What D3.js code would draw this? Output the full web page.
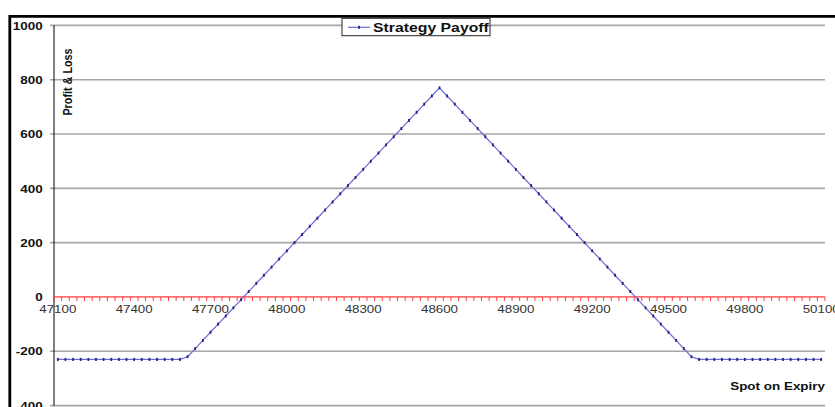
<!DOCTYPE html>
<html>
<head>
<meta charset="utf-8">
<script src="https://cdn.jsdelivr.net/npm/d3@7"></script>
<style>
  body { margin: 0; background: #fff; }
  text { font-family: "Liberation Sans", Arial, sans-serif; }
</style>
</head>
<body>
<div class="chart"></div>
<script>
// Butterfly payoff chart, spot on expiry vs profit & loss

// Spot prices on expiry (category axis)
var categories = [
  47100,47130,47160,47190,47220,47250,47280,47310,47340,47370,
  47400,47430,47460,47490,47520,47550,47580,47610,47640,47670,
  47700,47730,47760,47790,47820,47850,47880,47910,47940,47970,
  48000,48030,48060,48090,48120,48150,48180,48210,48240,48270,
  48300,48330,48360,48390,48420,48450,48480,48510,48540,48570,
  48600,48630,48660,48690,48720,48750,48780,48810,48840,48870,
  48900,48930,48960,48990,49020,49050,49080,49110,49140,49170,
  49200,49230,49260,49290,49320,49350,49380,49410,49440,49470,
  49500,49530,49560,49590,49620,49650,49680,49710,49740,49770,
  49800,49830,49860,49890,49920,49950,49980,50010,50040,50070,
  50100];

// Strategy payoff
var payoff = [
  -230,-230,-230,-230,-230,-230,-230,-230,-230,-230,
  -230,-230,-230,-230,-230,-230,-230,-220,-190,-160,
  -130,-100,-70,-40,-10,20,50,80,110,140,
  170,200,230,260,290,320,350,380,410,440,
  470,500,530,560,590,620,650,680,710,740,
  770,740,710,680,650,620,590,560,530,500,
  470,440,410,380,350,320,290,260,230,200,
  170,140,110,80,50,20,-10,-40,-70,-100,
  -130,-160,-190,-220,-230,-230,-230,-230,-230,-230,
  -230,-230,-230,-230,-230,-230,-230,-230,-230,-230,
  -230];

var xTickLabels = ["47100","47400","47700","48000","48300","48600","48900","49200","49500","49800","50100"];
var yTicks = [1000, 800, 600, 400, 200, 0, -200, -400];

var stretch = 1.17; // text in the picture is a bit wide

var svg = d3.select(".chart").append("svg")
    .attr("width", 835)
    .attr("height", 407);

svg.append("rect").attr("width", 835).attr("height", 407).attr("fill", "#fff");

var left = 54, right = 825;

var x = d3.scalePoint().domain(categories).range([left, right]).padding(0.5);
var band = d3.scaleBand().domain(categories).range([left, right]);
var y = d3.scaleLinear().domain([-400, 1000]).range([405.6, 25.4]);

// gridlines (they run 4px past the axis as tick marks)
svg.selectAll(".grid")
    .data(yTicks.filter(function(d) { return d !== 0; }))
    .enter().append("line")
    .attr("x1", left - 4).attr("x2", right)
    .attr("y1", function(d) { return y(d); })
    .attr("y2", function(d) { return y(d); })
    .attr("stroke", "#a6a6a6")
    .attr("stroke-width", 1.6);

// y axis line
svg.append("line")
    .attr("x1", left).attr("x2", left)
    .attr("y1", y(1000)).attr("y2", y(-400))
    .attr("stroke", "#000").attr("stroke-width", 1);

// y labels
svg.selectAll(".ylab")
    .data(yTicks)
    .enter().append("text")
    .text(function(d) { return d; })
    .attr("transform", function(d) { return "translate(42.7," + (y(d) + 4.2) + ") scale(" + stretch + ",1)"; })
    .attr("text-anchor", "end")
    .style("font-size", "11.5px")
    .style("font-weight", "bold")
    .style("fill", "#111");

// red zero axis with ticks between categories
svg.append("line")
    .attr("x1", left).attr("x2", right)
    .attr("y1", y(0)).attr("y2", y(0))
    .attr("stroke", "#ff3b3b").attr("stroke-width", 1.2);

svg.selectAll(".xtick")
    .data(categories.map(function(c) { return band(c); }).concat([right]))
    .enter().append("line")
    .attr("x1", function(d) { return d; })
    .attr("x2", function(d) { return d; })
    .attr("y1", y(0)).attr("y2", y(0) + 4)
    .attr("stroke", "#ff3b3b").attr("stroke-width", 1);

// x labels
svg.selectAll(".xlab")
    .data(xTickLabels)
    .enter().append("text")
    .text(function(d) { return d; })
    .attr("transform", function(d) { return "translate(" + x(+d) + ",313.3) scale(" + stretch + ",1)"; })
    .attr("text-anchor", "middle")
    .style("font-size", "11.4px")
    .style("fill", "#333");

// payoff line
var line = d3.line()
    .x(function(d, i) { return x(categories[i]); })
    .y(function(d) { return y(d); });

svg.append("path")
    .datum(payoff)
    .attr("d", line)
    .attr("fill", "none")
    .attr("stroke", "#6a6acf")
    .attr("stroke-width", 1.2);

svg.selectAll(".pt")
    .data(payoff)
    .enter().append("rect")
    .attr("x", function(d, i) { return x(categories[i]) - 0.9; })
    .attr("y", function(d) { return y(d) - 1.5; })
    .attr("width", 1.8).attr("height", 3)
    .attr("fill", "#22228a");

// axis titles
svg.append("text")
    .text("Profit & Loss")
    .attr("transform", "translate(71.5,82) scale(" + stretch + ",1) rotate(-90)")
    .attr("text-anchor", "middle")
    .style("font-size", "10.8px")
    .style("font-weight", "bold")
    .style("fill", "#111");

svg.append("text")
    .text("Spot on Expiry")
    .attr("transform", "translate(825,389.5) scale(" + stretch + ",1)")
    .attr("text-anchor", "end")
    .style("font-size", "11.5px")
    .style("font-weight", "bold")
    .style("fill", "#111");

// legend
var legend = svg.append("g");
legend.append("rect")
    .attr("x", 342).attr("y", 18.3)
    .attr("width", 148).attr("height", 17.4)
    .attr("fill", "#fff")
    .attr("stroke", "#222").attr("stroke-width", 1);
legend.append("line")
    .attr("x1", 348).attr("x2", 370)
    .attr("y1", 27.3).attr("y2", 27.3)
    .attr("stroke", "#6a6acf").attr("stroke-width", 1.2);
legend.append("rect")
    .attr("x", 358.1).attr("y", 25.8)
    .attr("width", 1.8).attr("height", 3)
    .attr("fill", "#22228a");
legend.append("text")
    .text("Strategy Payoff")
    .attr("transform", "translate(373,31.8) scale(" + stretch + ",1)")
    .style("font-size", "13.5px")
    .style("font-weight", "bold")
    .style("fill", "#111");

// black frame on top and left
svg.append("path")
    .attr("d", "M9.8,407 V16.3 H835")
    .attr("fill", "none")
    .attr("stroke", "#000")
    .attr("stroke-width", 2.8);
</script>
</body>
</html>
